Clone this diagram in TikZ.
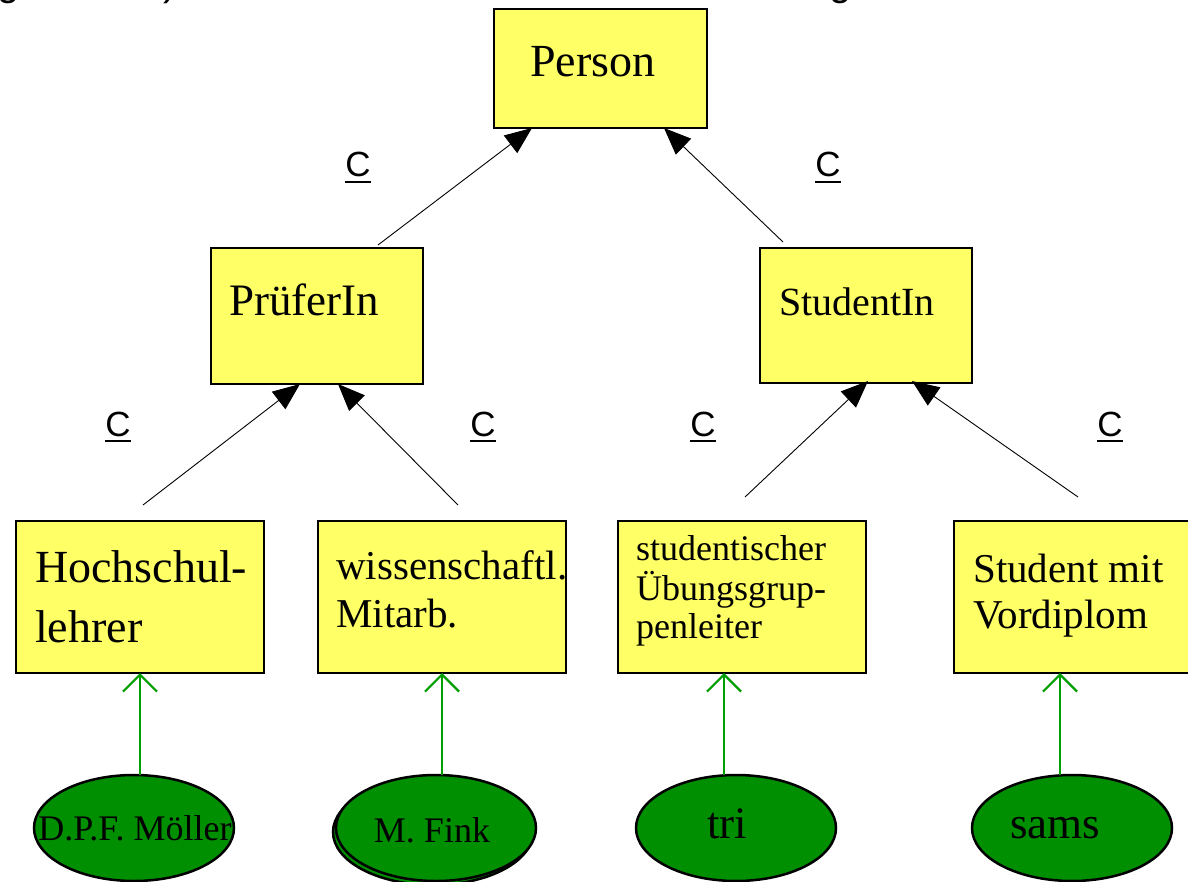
\documentclass[tikz,border=0pt]{standalone}
\usepackage{fontspec}
\setmainfont{Liberation Serif}
\newfontfamily\arialf{Liberation Sans}
\usetikzlibrary{arrows.meta,shapes.geometric,calc}
\definecolor{boxyellow}{RGB}{255,255,102}
\definecolor{instfill}{RGB}{0,143,0}
\definecolor{instline}{RGB}{0,158,0}
\newcommand\ulC{\setbox0\hbox{C}\rlap{\rule[-6pt]{\wd0}{2.4pt}}C}
\newcommand\fsz[1]{\fontsize{#1}{#1}\selectfont}
\begin{document}
\begin{tikzpicture}[x=1pt,y=-1pt,
  classbox/.style={draw=black, line width=2.6pt, fill=boxyellow, rectangle, anchor=north west, inner sep=0pt, outer sep=0pt},
  inst/.style={draw=black, line width=2.5pt, fill=instfill, ellipse, inner sep=0pt, outer sep=0pt, minimum width=200pt, minimum height=106pt},
  isa/.style={line width=0.9pt, -{Triangle[length=27pt,width=22pt]}},
  instof/.style={draw=instline, line width=2.2pt, -{Straight Barb[length=17pt,width=34pt]}},
  lbl/.style={anchor=base west, inner sep=0pt},
  clbl/.style={anchor=base, inner sep=0pt, font=\arialf\fsz{35}}]
\useasboundingbox (0,0) rectangle (1188,882);

% cut-off line of text at the very top
\node[lbl, font=\arialf\fsz{40}] (topa) at (-3,-4) {g};
\node[lbl, font=\arialf\fsz{40}] (topb) at (163,-4) {)};
\node[lbl, font=\arialf\fsz{40}] (topc) at (829,-4) {g};

% class boxes
\node[classbox, minimum width=213pt, minimum height=119pt] (person) at (494,9) {};
\node[classbox, minimum width=212pt, minimum height=136pt] (pruefer) at (211,248) {};
\node[classbox, minimum width=212pt, minimum height=135pt] (student) at (760,248) {};
\node[classbox, minimum width=248pt, minimum height=152pt] (hsl) at (16,521) {};
\node[classbox, minimum width=248pt, minimum height=152pt] (wiss) at (318,521) {};
\node[classbox, minimum width=248pt, minimum height=152pt] (stud) at (618,521) {};
\node[classbox, minimum width=248pt, minimum height=152pt] (svd) at (954,521) {};

% box texts
\node[lbl, font=\fsz{46}] (tperson) at (530,77) {Person};
\node[lbl, font=\fsz{45}] (tpruefer) at (229,316) {PrüferIn};
\node[lbl, font=\fsz{40}] (tstudent) at (779,316) {StudentIn};
\node[lbl, font=\fsz{46}] (thsla) at (35,582) {Hochschul-};
\node[lbl, font=\fsz{46}] (thslb) at (35,642) {lehrer};
\node[lbl, font=\fsz{41}] (twissa) at (336,579) {wissenschaftl.};
\node[lbl, font=\fsz{41}] (twissb) at (336,627) {Mitarb.};
\node[lbl, font=\fsz{36}] (tstuda) at (636,560) {studentischer};
\node[lbl, font=\fsz{36}] (tstudb) at (636,600) {Übungsgrup-};
\node[lbl, font=\fsz{36}] (tstudc) at (636,638) {penleiter};
\node[lbl, font=\fsz{41}] (tsvda) at (973,582) {Student mit};
\node[lbl, font=\fsz{41}] (tsvdb) at (973,628) {Vordiplom};

% instances
\node[inst] (moeller) at (134,828) {};
\node[inst] (finkshadow) at (433,832) {};
\node[inst] (fink) at (436,828) {};
\node[inst] (tri) at (736,828) {};
\node[inst] (sams) at (1072,828) {};
\node[anchor=base, inner sep=0pt, font=\fsz{36}] (tmoeller) at (135,840) {D.P.F.\ Möller};
\node[anchor=base, inner sep=0pt, font=\fsz{36}] (tfink) at (432,842) {M.\ Fink};
\node[anchor=base, inner sep=0pt, font=\fsz{45}] (ttri) at (727,838) {tri};
\node[anchor=base, inner sep=0pt, font=\fsz{45}] (tsams) at (1055,838) {sams};

% free ends of the is-a connectors
\coordinate (s1) at (378,245);
\coordinate (s2) at (783,242);
\coordinate (s3) at (143,505);
\coordinate (s4) at (458,505);
\coordinate (s5) at (745,497);
\coordinate (s6) at (1078,497);

\draw[isa] (s1) -- ($(person.south west)+(38,0)$);
\draw[isa] (s2) -- ($(person.south west)+(170,0)$);
\draw[isa] (s3) -- ($(pruefer.south west)+(89,0)$);
\draw[isa] (s4) -- ($(pruefer.south west)+(127,0)$);
\draw[isa] (s5) -- ($(student.south west)+(108,-2)$);
\draw[isa] (s6) -- ($(student.south west)+(152,-2)$);

% instance-of connectors
\draw[instof] ($(moeller.north)+(6,0)$) -- (hsl.south);
\draw[instof] ($(fink.north)+(6,0)$) -- (wiss.south);
\draw[instof] ($(tri.north)+(-12,0)$) -- ($(stud.south)+(-18,0)$);
\draw[instof] ($(sams.north)+(-12,0)$) -- ($(svd.south)+(-18,0)$);

% C labels
\node[clbl] (c1) at (358,177) {\ulC};
\node[clbl] (c2) at (828,177) {\ulC};
\node[clbl] (c3) at (118,436) {\ulC};
\node[clbl] (c4) at (483,436) {\ulC};
\node[clbl] (c5) at (703,436) {\ulC};
\node[clbl] (c6) at (1110,436) {\ulC};
\end{tikzpicture}
\end{document}
